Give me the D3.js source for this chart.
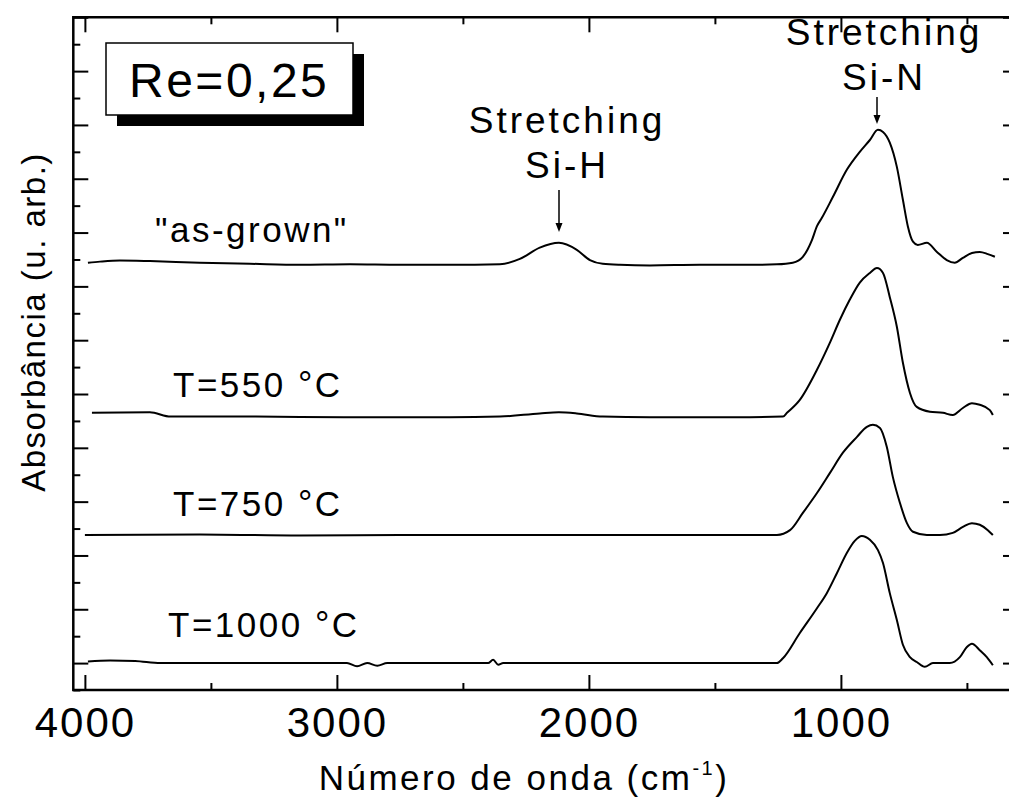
<!DOCTYPE html>
<html lang="pt">
<head>
<meta charset="utf-8">
<title>FTIR Re=0,25</title>
<script src="https://cdn.jsdelivr.net/npm/d3@7"></script>
<style>
  body { margin: 0; background: #fff; }
  svg text { font-family: "Liberation Sans", Arial, Helvetica, sans-serif; fill: #000; }
</style>
</head>
<body>
<script>
// spectra: [wavenumber (cm-1), absorbance (arb., offset)]
var asGrown = [
  [3988, 7.44], [3940, 7.46], [3861, 7.48], [3742, 7.47], [3544, 7.44], [3345, 7.42],
  [3147, 7.40], [2948, 7.41], [2750, 7.40], [2552, 7.40], [2353, 7.41], [2274, 7.51],
  [2195, 7.72], [2119, 7.81], [2048, 7.68], [1996, 7.49], [1945, 7.42], [1877, 7.40],
  [1758, 7.39], [1560, 7.40], [1361, 7.40], [1254, 7.41], [1191, 7.44], [1151, 7.55],
  [1115, 7.86], [1095, 8.12], [1076, 8.27], [1032, 8.66], [976, 9.17], [925, 9.50],
  [885, 9.72], [853, 9.91], [833, 9.87], [806, 9.67], [778, 9.22], [754, 8.61],
  [734, 8.11], [714, 7.83], [695, 7.77], [659, 7.81], [619, 7.64], [580, 7.49],
  [548, 7.44], [516, 7.53], [480, 7.62], [449, 7.64], [417, 7.60], [389, 7.55]
];
var t550 = [
  [3972, 4.65], [3742, 4.66], [3660, 4.58], [3345, 4.58], [2948, 4.57], [2552, 4.57],
  [2353, 4.58], [2195, 4.64], [2119, 4.66], [2048, 4.64], [1945, 4.58], [1758, 4.57],
  [1361, 4.57], [1230, 4.58], [1214, 4.65], [1163, 4.89], [1095, 5.45], [1044, 5.95],
  [1004, 6.38], [965, 6.75], [925, 7.07], [885, 7.25], [857, 7.34], [833, 7.25],
  [806, 6.80], [778, 6.25], [754, 5.58], [726, 5.02], [699, 4.76], [647, 4.67],
  [595, 4.65], [556, 4.61], [516, 4.74], [480, 4.83], [449, 4.80], [409, 4.70], [397, 4.61]
];
var t750 = [
  [4000, 2.38], [3544, 2.39], [3147, 2.37], [2750, 2.38], [2353, 2.38], [1945, 2.38],
  [1560, 2.38], [1254, 2.38], [1202, 2.47], [1151, 2.79], [1095, 3.16], [1044, 3.53],
  [992, 3.91], [937, 4.20], [897, 4.39], [873, 4.43], [845, 4.37], [818, 4.02],
  [794, 3.46], [766, 2.98], [738, 2.60], [714, 2.44], [659, 2.38], [607, 2.38],
  [556, 2.42], [516, 2.53], [480, 2.60], [449, 2.57], [417, 2.47], [397, 2.38]
];
var t1000 = [
  [3988, 0.03], [3900, 0.05], [3800, 0.04], [3700, 0.00], [3345, 0.00], [2960, 0.00],
  [2920, -0.06], [2880, 0.00], [2840, -0.05], [2800, 0.00], [2400, 0.00], [2380, 0.06],
  [2360, -0.03], [2340, 0.00], [1560, 0.00], [1254, 0.00], [1230, 0.09], [1163, 0.56],
  [1095, 1.02], [1056, 1.30], [1016, 1.67], [976, 2.05], [945, 2.27], [917, 2.36],
  [885, 2.29], [853, 2.10], [833, 1.86], [806, 1.30], [778, 0.80], [754, 0.34],
  [726, 0.11], [699, 0.02], [667, -0.07], [635, 0.00], [568, 0.00], [528, 0.11],
  [500, 0.30], [480, 0.36], [449, 0.24], [421, 0.11], [397, -0.04]
];
var spectra = [asGrown, t550, t750, t1000];

var xMajor = [4000, 3000, 2000, 1000];
var xMinor = [3500, 2500, 1500, 500];
var yMajor = d3.range(0, 12.5, 1);
var yMinor = d3.range(-0.5, 12, 1);

var W = 1009, H = 798;
var pL = 73.3, pR = 1010, pT = 17.3, pB = 690;

var svg = d3.select("body").append("svg").attr("width", W).attr("height", H);

var x = d3.scaleLinear().domain([4046, 329]).range([pL, pR]);
var y = d3.scaleLinear().domain([-0.5, 12]).range([pB, pT]);

// axes (ticks pointing inward)
function clean(g) { g.select(".domain").remove(); g.selectAll("line").attr("stroke", "#000").attr("stroke-width", 2); }

svg.append("g").attr("transform", "translate(0," + pB + ")")
  .call(d3.axisBottom(x).tickValues(xMajor).tickSize(-15).tickPadding(17).tickFormat(d3.format("d")))
  .call(clean)
  .selectAll("text").attr("font-size", 42).style("letter-spacing", "2px").attr("font-family", null);
svg.append("g").attr("transform", "translate(0," + pB + ")")
  .call(d3.axisBottom(x).tickValues(xMinor).tickSize(-7).tickFormat("")).call(clean);
svg.append("g").attr("transform", "translate(0," + pT + ")")
  .call(d3.axisTop(x).tickValues(xMajor).tickSize(-15).tickFormat("")).call(clean);
svg.append("g").attr("transform", "translate(0," + pT + ")")
  .call(d3.axisTop(x).tickValues(xMinor).tickSize(-7).tickFormat("")).call(clean);
svg.append("g").attr("transform", "translate(" + pL + ",0)")
  .call(d3.axisLeft(y).tickValues(yMajor).tickSize(-15).tickFormat("")).call(clean);
svg.append("g").attr("transform", "translate(" + pL + ",0)")
  .call(d3.axisLeft(y).tickValues(yMinor).tickSize(-7).tickFormat("")).call(clean);
svg.append("g").attr("transform", "translate(" + pR + ",0)")
  .call(d3.axisRight(y).tickValues(yMajor).tickSize(-7).tickFormat("")).call(clean);

// frame
svg.append("path")
  .attr("d", "M" + pR + "," + pT + "H" + pL + "V" + pB + "H" + pR)
  .attr("fill", "none").attr("stroke", "#000").attr("stroke-width", 2.5);

// spectra
var line = d3.line().x(function(d) { return x(d[0]); }).y(function(d) { return y(d[1]); })
  .curve(d3.curveMonotoneX);
svg.selectAll("path.spec").data(spectra).enter().append("path")
  .attr("class", "spec")
  .attr("d", line)
  .attr("fill", "none").attr("stroke", "#000").attr("stroke-width", 2).attr("stroke-linejoin", "round");

// Re box with shadow
svg.append("rect").attr("x", 117).attr("y", 54).attr("width", 247).attr("height", 72).attr("fill", "#000");
svg.append("rect").attr("x", 106).attr("y", 43).attr("width", 247).attr("height", 72)
  .attr("fill", "#fff").attr("stroke", "#000").attr("stroke-width", 1.5);
svg.append("text").attr("x", 129).attr("y", 97).attr("font-size", 48).style("letter-spacing", "2.5px")
  .text("Re=0,25");

// curve labels
var labels = [
  { t: "\"as-grown\"", x: 155, y: 242 },
  { t: "T=550 ", deg: true, x: 173, y: 397 },
  { t: "T=750 ", deg: true, x: 173, y: 516 },
  { t: "T=1000 ", deg: true, x: 168, y: 637 }
];
labels.forEach(function(l) {
  var tx = svg.append("text").attr("x", l.x).attr("y", l.y).attr("font-size", 35)
    .style("letter-spacing", "2.5px").text(l.t);
  if (l.deg) {
    tx.append("tspan").attr("font-size", 36).text("°");
    tx.append("tspan").attr("font-size", 35).text("C");
  }
});

// band annotations
function note(l1, l2, cx, y1, y2, ax, a0, a1) {
  svg.append("text").attr("x", cx).attr("y", y1).attr("font-size", 37).attr("text-anchor", "middle")
    .style("letter-spacing", "3px").text(l1);
  svg.append("text").attr("x", cx).attr("y", y2).attr("font-size", 37).attr("text-anchor", "middle")
    .style("letter-spacing", "3px").text(l2);
  svg.append("line").attr("x1", ax).attr("x2", ax).attr("y1", a0).attr("y2", a1 - 6)
    .attr("stroke", "#000").attr("stroke-width", 1.5);
  svg.append("path").attr("d", "M" + (ax - 3.5) + "," + (a1 - 9) + "L" + (ax + 3.5) + "," + (a1 - 9) + "L" + ax + "," + a1 + "Z")
    .attr("fill", "#000");
}
note("Stretching", "Si-H", 567, 133, 178, 559, 190, 232);
note("Stretching", "Si-N", 884, 45, 90, 877, 97, 124);

// axis titles
var xt = svg.append("text").attr("x", 524).attr("y", 790).attr("font-size", 35).attr("text-anchor", "middle")
  .style("letter-spacing", "2.5px").text("Número de onda (cm");
xt.append("tspan").attr("font-size", 20).attr("dy", -15).text("-1");
xt.append("tspan").attr("dy", 15).text(")");

svg.append("text").attr("transform", "translate(45,322) rotate(-90)").attr("text-anchor", "middle")
  .attr("font-size", 33).style("letter-spacing", "1.5px").text("Absorbância (u. arb.)");
</script>
</body>
</html>
